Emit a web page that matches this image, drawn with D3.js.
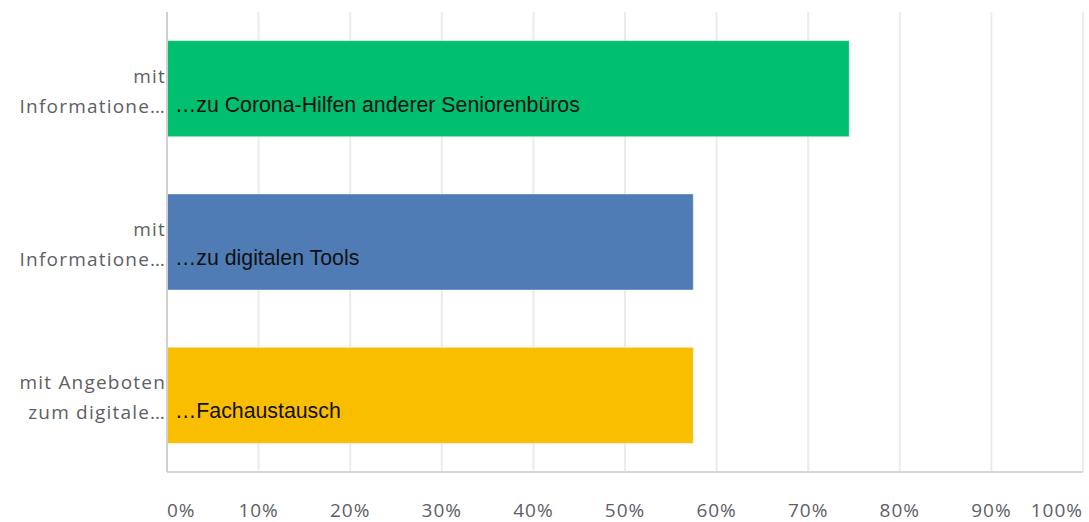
<!DOCTYPE html>
<html>
<head>
<meta charset="utf-8">
<script src="https://cdn.jsdelivr.net/npm/d3@7"></script>
<style>
  body { margin: 0; background: #fff; }
  svg { display: block; }
</style>
</head>
<body>
<div id="root"></div>
<script>
// answer options (y axis), two lines each
const categories = [
    ['mit', 'Informatione…'],
    ['mit', 'Informatione…'],
    ['mit Angeboten', 'zum digitale…']
];
const barLabels = [
    '…zu Corona-Hilfen anderer Seniorenbüros',
    '…zu digitalen Tools',
    '…Fachaustausch'
];
const values = [74.47, 57.45, 57.45];
const colors = ['#00bf6f', '#507cb6', '#f9be00'];
const ticks = [0, 10, 20, 30, 40, 50, 60, 70, 80, 90, 100];

const width = 1089;
const height = 522;
const margin = {top: 12, right: 6, bottom: 50, left: 167};

const svg = d3.select('#root')
    .append('svg')
    .attr('width', width)
    .attr('height', height);

const x = d3.scaleLinear()
    .domain([0, 100])
    .range([margin.left, width - margin.right]);

const y = d3.scaleBand()
    .domain(d3.range(values.length))
    .range([margin.top, height - margin.bottom])
    .paddingInner(0.374)
    .paddingOuter(0.187);

// gridlines
svg.append('g')
    .selectAll('line')
    .data(ticks.slice(1))
    .join('line')
    .attr('x1', d => x(d))
    .attr('x2', d => x(d))
    .attr('y1', margin.top)
    .attr('y2', height - margin.bottom)
    .attr('stroke', '#ebebeb')
    .attr('stroke-width', 2);

// bars
svg.append('g')
    .selectAll('rect')
    .data(values)
    .join('rect')
    .attr('x', x(0))
    .attr('y', (d, i) => y(i))
    .attr('width', d => x(d) - x(0))
    .attr('height', y.bandwidth())
    .attr('fill', (d, i) => colors[i])
    .attr('stroke', 'rgba(255,255,255,0.35)')
    .attr('stroke-width', 1);

// axis lines
svg.append('line')
    .attr('x1', x(0)).attr('x2', x(100))
    .attr('y1', height - margin.bottom).attr('y2', height - margin.bottom)
    .attr('stroke', '#d6d6d6')
    .attr('stroke-width', 2);
svg.append('line')
    .attr('x1', x(0)).attr('x2', x(0))
    .attr('y1', margin.top).attr('y2', height - margin.bottom)
    .attr('stroke', '#d0d0d0')
    .attr('stroke-width', 2);

// text inside bars
svg.append('g')
    .selectAll('text')
    .data(barLabels)
    .join('text')
    .attr('x', x(0) + 8)
    .attr('y', (d, i) => y(i) + y.bandwidth() / 2 + 23)
    .attr('font-family', '"Liberation Sans", Arial, sans-serif')
    .attr('font-size', 21.3)
    .attr('fill', '#111')
    .text(d => d);

// category labels
const catG = svg.append('g')
    .selectAll('text')
    .data(categories)
    .join('text')
    .attr('text-anchor', 'end')
    .attr('font-family', '"Open Sans", sans-serif')
    .attr('font-size', 19)
    .attr('letter-spacing', 1.2)
    .attr('fill', '#5d6067');
catG.selectAll('tspan')
    .data((d, i) => d.map(t => ({t, i})))
    .join('tspan')
    .attr('x', x(0) - 1)
    .attr('y', (d, j) => y(d.i) + y.bandwidth() / 2 - 6 + j * 30)
    .text(d => d.t);

// x tick labels
svg.append('g')
    .selectAll('text')
    .data(ticks)
    .join('text')
    .attr('x', d => x(d))
    .attr('y', 517)
    .attr('text-anchor', (d, i) => i === 0 ? 'start' : i === ticks.length - 1 ? 'end' : 'middle')
    .attr('font-family', '"Open Sans", sans-serif')
    .attr('font-size', 19)
    .attr('letter-spacing', 1)
    .attr('fill', '#5d6067')
    .text(d => `${d}%`);
</script>
</body>
</html>
